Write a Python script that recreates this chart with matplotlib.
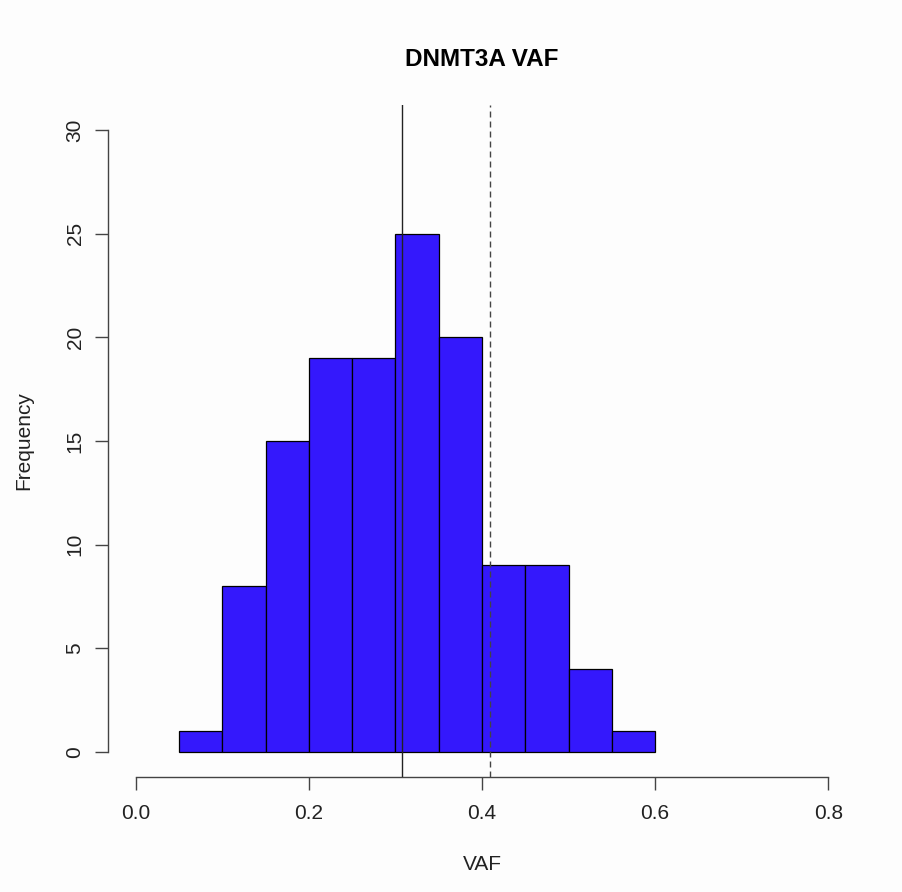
import matplotlib
matplotlib.use('Agg')
import matplotlib.pyplot as plt
import numpy as np

plt.rcParams['font.family'] = ['Liberation Sans', 'DejaVu Sans']

# histogram of DNMT3A VAF
bin_edges = [0.05, 0.10, 0.15, 0.20, 0.25, 0.30, 0.35, 0.40, 0.45, 0.50, 0.55, 0.60]
counts = [1, 8, 15, 19, 19, 25, 20, 9, 9, 4, 1]
median_vaf = 0.3075
ref_vaf = 0.409
x_ticks = [0.0, 0.2, 0.4, 0.6, 0.8]
y_ticks = [0, 5, 10, 15, 20, 25, 30]

W, H = 902, 892
fig = plt.figure(figsize=(W / 100, H / 100), dpi=100, facecolor='#fdfdfd')
ax = fig.add_axes([108 / W, 1 - 777 / H, 748 / W, 672 / H])
ax.set_facecolor('#fdfdfd')

lefts = np.array(bin_edges[:-1])
widths = np.diff(bin_edges)
ax.bar(lefts, counts, width=widths, align='edge', color='#3418fc',
       edgecolor='black', linewidth=0.9, zorder=2)

ax.axvline(median_vaf, color='#222222', linewidth=1.0, zorder=3)
ax.axvline(ref_vaf, color='#444444', linewidth=1.0, linestyle=(0, (4.3, 2.9)), zorder=3)

ax.set_xlim(-0.032, 0.832)
ax.set_ylim(-1.2, 31.2)

for s in ['top', 'right']:
    ax.spines[s].set_visible(False)
ax.spines['bottom'].set_bounds(0, 0.8)
ax.spines['left'].set_bounds(0, 30)
for s in ['bottom', 'left']:
    ax.spines[s].set_color('#444444')
    ax.spines[s].set_linewidth(1.0)

ax.set_xticks(x_ticks)
ax.set_xticklabels([f'{v:.1f}' for v in x_ticks])
ax.set_yticks(y_ticks)
ax.set_yticklabels([str(v) for v in y_ticks], rotation=90, va='center')
ax.tick_params(axis='both', length=9.4, width=1.0, color='#444444',
               labelsize=15, labelcolor='#222222')
ax.tick_params(axis='x', pad=10)
ax.tick_params(axis='y', pad=7.5)

fig.text(482 / W, 1 - 865 / H, 'VAF', ha='center', va='center',
         fontsize=15, color='#222222')
fig.text(24 / W, 1 - 441 / H, 'Frequency', ha='center', va='center',
         rotation=90, fontsize=15, color='#222222')
fig.text(482 / W, 1 - 60 / H, 'DNMT3A VAF', ha='center', va='center',
         fontsize=17.5, fontweight='bold')

fig.savefig('out.png', dpi=100, facecolor=fig.get_facecolor())
